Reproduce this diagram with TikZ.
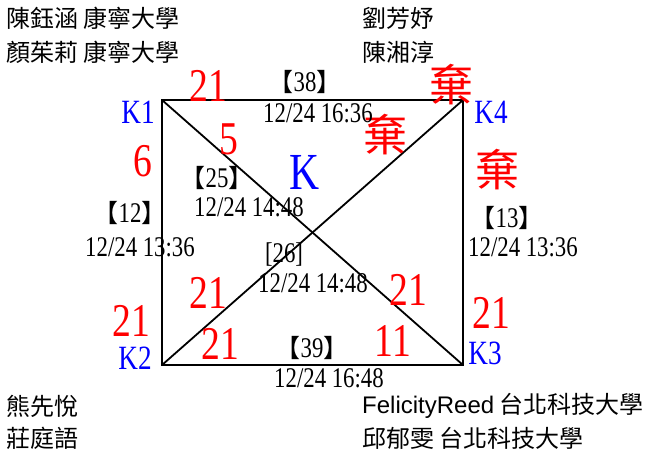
\documentclass[tikz,border=0pt]{standalone}
\usepackage{fontspec}
\setmainfont[FakeStretch=0.8]{Liberation Serif}
\newfontfamily\cjk{Noto Sans CJK TC}
\newfontfamily\arial{Liberation Sans}
\newcommand{\gno}[1]{{\cjk\fontsize{25}{25}\selectfont【}#1{\cjk\fontsize{25}{25}\selectfont】}}

\begin{document}
\begin{tikzpicture}[x=1pt, y=-1pt, inner sep=0pt,
  court/.style={line width=1.8pt},
  score/.style={red, font=\fontsize{47}{47}\selectfont},
  quit/.style={red, font=\cjk\fontsize{44}{44}\selectfont},
  team/.style={blue, font=\fontsize{34}{34}\selectfont},
  game/.style={font=\fontsize{28.5}{28.5}\selectfont},
  player/.style={anchor=west, font=\cjk\fontsize{24}{24}\selectfont}]
  \useasboundingbox (0,0) rectangle (647,456);

  \coordinate (c1) at (162,100);
  \coordinate (c4) at (463,100);
  \coordinate (c2) at (162,365);
  \coordinate (c3) at (463,365);
  \draw[court] (c1) -- (c4) -- (c3) -- (c2) -- cycle;
  \draw[court] (c1) -- (c3);
  \draw[court] (c2) -- (c4);

  \node[player] (p1a) at (6,18) {陳鈺涵 康寧大學};
  \node[player] (p1b) at (6,52) {顏茱莉 康寧大學};
  \node[player] (p4a) at (362,18) {劉芳妤};
  \node[player] (p4b) at (362,52) {陳湘淳};
  \node[player] (p2a) at (6,406) {熊先悅};
  \node[player] (p2b) at (6,438) {莊庭語};
  \node[player] (p3a) at (362,406) {{\arial FelicityReed} 台北科技大學};
  \node[player] (p3b) at (362,438) {邱郁雯 台北科技大學};

  \node[team] (k1) at (138,112) {K1};
  \node[team] (k4) at (491,112) {K4};
  \node[team] (k2) at (135,358) {K2};
  \node[team] (k3) at (485,353) {K3};
  \node[blue, font=\fontsize{52}{52}\selectfont] (k) at (305,172) {K};

  \node[score] (s14a) at (208,86) {21};
  \node[quit] (s14b) at (451,85) {棄};
  \node[score] (s13a) at (229,139) {5};
  \node[score] (s13b) at (408,290) {21};
  \node[quit] (s24a) at (385,135) {棄};
  \node[score] (s24b) at (208,293) {21};
  \node[score] (s12a) at (143,161) {6};
  \node[score] (s12b) at (131,321) {21};
  \node[quit] (s43a) at (497,170) {棄};
  \node[score] (s43b) at (491,313) {21};
  \node[score] (s23a) at (220,344) {21};
  \node[score] (s23b) at (393,341) {11};

  \node[game] (g38) at (305,82) {\gno{38}};
  \node[game] (t38) at (318,113) {12/24 16:36};
  \node[game] (g25) at (217,178) {\gno{25}};
  \node[game] (t25) at (249,207) {12/24 14:48};
  \node[game] (g12) at (130,213) {\gno{12}};
  \node[game] (t12) at (140,247) {12/24 13:36};
  \node[game] (g13) at (507,218) {\gno{13}};
  \node[game] (t13) at (523,247) {12/24 13:36};
  \node[game] (g26) at (284,255) {[26]};
  \node[game] (t26) at (313,283) {12/24 14:48};
  \node[game] (g39) at (312,348) {\gno{39}};
  \node[game] (t39) at (329,378) {12/24 16:48};
\end{tikzpicture}
\end{document}
